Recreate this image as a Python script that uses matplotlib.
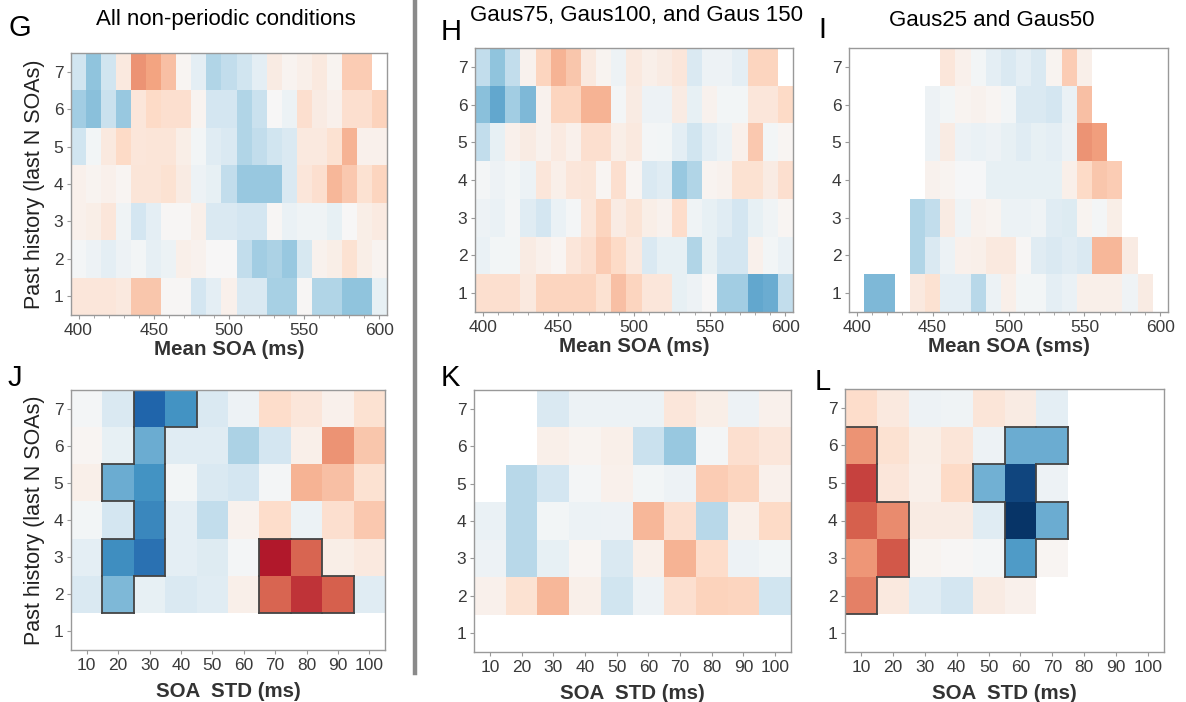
import numpy as np
import matplotlib
matplotlib.use("Agg")
import matplotlib.pyplot as plt
from matplotlib.lines import Line2D

plt.rcParams['font.family'] = ['Liberation Sans', 'DejaVu Sans']

nan = np.nan

# x bins
mean_soa = list(range(400, 601, 10))      # 21 bins, top row
soa_std = list(range(10, 101, 10))        # 10 bins, bottom row
history = [1, 2, 3, 4, 5, 6, 7]

# rows listed from history 7 (top) down to history 1 (bottom)
g_vals = [
    [-0.2, -0.4, -0.2, 0.1, 0.45, 0.4, 0.3, 0.02, -0.1, -0.3, -0.25, -0.2, -0.1, 0.08, 0.03, 0.06, 0.1, 0.03, 0.25, 0.25, nan],
    [-0.35, -0.42, -0.22, -0.38, 0.12, 0.2, 0.17, 0.17, 0.03, -0.18, -0.18, -0.3, -0.22, 0.0, -0.06, 0.17, 0.08, 0.05, 0.17, 0.17, 0.23],
    [-0.2, -0.03, 0.1, 0.2, 0.12, 0.13, 0.13, 0.07, -0.03, -0.12, -0.15, -0.3, -0.25, -0.2, -0.15, 0.1, 0.1, 0.15, 0.35, 0.05, 0.05],
    [0.05, 0.03, 0.05, 0.02, 0.13, 0.13, 0.15, 0.08, -0.05, -0.08, -0.25, -0.38, -0.38, -0.38, -0.15, 0.12, 0.17, 0.33, 0.27, 0.15, 0.22],
    [0.05, 0.07, 0.12, -0.04, -0.18, -0.1, 0.01, 0.01, 0.06, -0.15, -0.15, -0.18, -0.18, 0.01, -0.07, -0.04, -0.04, -0.08, 0.0, 0.07, 0.09],
    [-0.02, -0.05, -0.1, -0.05, -0.03, -0.09, -0.06, 0.06, 0.04, 0.0, 0.0, -0.25, -0.35, -0.32, -0.38, -0.17, 0.04, 0.07, 0.15, 0.07, 0.03],
    [0.12, 0.12, 0.12, 0.1, 0.28, 0.28, 0.01, 0.01, -0.18, -0.1, 0.05, -0.15, -0.15, -0.33, -0.33, 0.01, -0.3, -0.3, -0.4, -0.4, -0.08],
]

h_vals = [
    [-0.25, -0.4, -0.25, 0.04, 0.22, 0.35, 0.28, 0.1, 0.03, -0.05, 0.1, 0.06, 0.08, 0.12, -0.15, -0.05, -0.05, -0.1, 0.22, 0.22, nan],
    [-0.42, -0.52, -0.35, -0.45, 0.04, 0.22, 0.22, 0.35, 0.35, -0.02, 0.08, -0.05, -0.05, 0.08, -0.08, 0.04, -0.03, -0.03, 0.12, 0.12, 0.2],
    [-0.25, -0.08, 0.05, 0.08, 0.04, 0.09, 0.05, 0.17, 0.17, 0.07, 0.1, -0.02, -0.03, -0.1, -0.2, -0.1, -0.06, 0.05, 0.27, -0.03, 0.02],
    [-0.02, -0.05, -0.03, -0.06, 0.12, 0.06, 0.12, 0.13, 0.02, 0.17, 0.02, -0.15, -0.12, -0.38, -0.3, 0.03, 0.04, 0.15, 0.15, 0.08, 0.17],
    [-0.05, -0.07, -0.02, -0.12, -0.18, -0.07, -0.02, 0.12, 0.22, 0.08, 0.14, 0.07, 0.04, 0.18, -0.04, -0.08, -0.12, -0.18, -0.08, -0.04, 0.02],
    [-0.07, -0.03, -0.03, 0.08, 0.05, 0.02, 0.12, 0.17, 0.25, 0.2, 0.1, -0.15, -0.08, -0.08, -0.3, -0.08, -0.18, -0.18, 0.05, -0.03, -0.07],
    [0.17, 0.17, 0.17, 0.1, 0.22, 0.22, 0.22, 0.22, 0.15, 0.3, 0.22, 0.12, 0.12, -0.08, -0.05, 0.0, -0.35, -0.35, -0.52, -0.5, -0.25],
]

i_vals = [
    [nan] * 6 + [0.12, 0.05, -0.03, -0.1, -0.15, -0.1, -0.15, 0.03, 0.25, 0.06] + [nan] * 5,
    [nan] * 5 + [-0.05, -0.03, 0.03, 0.04, 0.02, -0.03, -0.15, -0.15, -0.18, -0.07, 0.3] + [nan] * 5,
    [nan] * 5 + [-0.05, 0.08, -0.05, -0.07, -0.05, -0.08, -0.12, -0.08, -0.1, -0.05, 0.45, 0.42] + [nan] * 4,
    [nan] * 5 + [0.04, 0.03, -0.01, -0.01, -0.08, -0.08, -0.08, -0.08, -0.08, 0.06, 0.2, 0.28, 0.25] + [nan] * 3,
    [nan] * 4 + [-0.3, -0.25, 0.08, -0.04, 0.04, 0.03, -0.06, -0.06, -0.04, -0.12, -0.14, 0.03, -0.02, 0.07] + [nan] * 3,
    [nan] * 4 + [-0.3, -0.15, -0.06, 0.05, 0.06, 0.1, 0.1, 0.01, -0.12, -0.15, -0.12, -0.15, 0.33, 0.33, 0.08] + [nan] * 2,
    [nan, -0.45, -0.45, nan, 0.1, 0.15, -0.1, -0.1, -0.28, -0.06, 0.06, -0.03, -0.03, -0.1, -0.07, 0.06, 0.06, 0.06, -0.04, 0.08, nan],
]

j_vals = [
    [-0.02, -0.15, -0.8, -0.6, -0.15, -0.05, 0.18, 0.12, 0.05, 0.15],
    [0.02, -0.08, -0.5, -0.12, -0.12, -0.32, -0.18, 0.06, 0.45, 0.28],
    [0.06, -0.5, -0.6, -0.03, -0.15, -0.18, -0.02, 0.35, 0.3, 0.15],
    [-0.03, -0.18, -0.65, -0.1, -0.25, 0.04, 0.18, -0.06, 0.17, 0.27],
    [-0.1, -0.62, -0.75, -0.1, -0.13, -0.02, 0.8, 0.58, 0.07, 0.1],
    [-0.15, -0.45, -0.08, -0.15, -0.12, 0.06, 0.58, 0.72, 0.6, -0.12],
    [nan] * 10,
]

k_vals = [
    [nan, nan, -0.15, -0.06, -0.06, -0.06, 0.12, 0.07, -0.05, 0.05],
    [nan, nan, 0.06, 0.03, 0.06, -0.22, -0.38, -0.02, 0.17, 0.12],
    [nan, -0.28, -0.18, -0.02, 0.05, -0.03, -0.05, 0.25, 0.22, 0.05],
    [-0.07, -0.28, -0.03, -0.06, -0.05, 0.33, 0.17, -0.28, 0.06, 0.2],
    [-0.05, -0.28, -0.08, 0.02, -0.15, 0.06, 0.35, 0.18, -0.05, -0.03],
    [0.05, 0.15, 0.33, 0.06, -0.2, -0.05, 0.17, 0.23, 0.22, -0.2],
    [nan] * 10,
]

l_vals = [
    [0.18, 0.1, -0.05, -0.04, 0.13, 0.08, -0.1, nan, nan, nan],
    [0.45, 0.15, 0.07, 0.13, -0.05, -0.5, -0.5, nan, nan, nan],
    [0.68, 0.12, 0.06, 0.2, -0.48, -0.92, -0.05, nan, nan, nan],
    [0.6, 0.47, 0.08, 0.08, -0.12, -0.98, -0.5, nan, nan, nan],
    [0.44, 0.62, 0.03, 0.01, -0.02, -0.57, 0.02, nan, nan, nan],
    [0.5, 0.1, -0.12, -0.18, 0.08, 0.05, nan, nan, nan, nan],
    [nan] * 10,
]

# significant clusters (x bin, history)
j_clusters = [
    [(30, 7), (40, 7), (30, 6), (20, 5), (30, 5), (30, 4), (20, 3), (30, 3), (20, 2)],
    [(70, 3), (80, 3), (70, 2), (80, 2), (90, 2)],
]
l_clusters = [
    [(10, 6), (10, 5), (10, 4), (20, 4), (10, 3), (20, 3), (10, 2)],
    [(60, 6), (70, 6), (50, 5), (60, 5), (60, 4), (70, 4), (60, 3)],
]

W, H = 1186, 702


def add_ax(fig, left, right, top, bottom):
    return fig.add_axes([left / W, 1 - bottom / H, (right - left) / W, (bottom - top) / H])


def edges(centers):
    c = np.asarray(centers, dtype=float)
    step = c[1] - c[0]
    return np.append(c - step / 2, c[-1] + step / 2)


def heat(ax, xs, vals):
    z = np.ma.masked_invalid(np.array(vals, dtype=float)[::-1])
    ax.pcolormesh(edges(xs), edges(history), z, cmap='RdBu_r', vmin=-1, vmax=1)
    ax.set_xlim(edges(xs)[0], edges(xs)[-1])
    ax.set_ylim(0.5, 7.5)
    ax.set_yticks(history)
    for s in ax.spines.values():
        s.set_color('#999999')
        s.set_linewidth(1.0)
    ax.tick_params(colors='#999999', labelcolor='#3a3a3a', labelsize=12.5, length=3, width=0.8, pad=2.5)


def outline(ax, xs, cluster):
    step = xs[1] - xs[0]
    cells = set(cluster)
    for (x, y) in cells:
        x0, x1 = x - step / 2, x + step / 2
        y0, y1 = y - 0.5, y + 0.5
        if (x, y + 1) not in cells:
            ax.plot([x0, x1], [y1, y1], color='#444444', lw=1.3, solid_capstyle='projecting')
        if (x, y - 1) not in cells:
            ax.plot([x0, x1], [y0, y0], color='#444444', lw=1.3, solid_capstyle='projecting')
        if (x - step, y) not in cells:
            ax.plot([x0, x0], [y0, y1], color='#444444', lw=1.3, solid_capstyle='projecting')
        if (x + step, y) not in cells:
            ax.plot([x1, x1], [y0, y1], color='#444444', lw=1.3, solid_capstyle='projecting')


fig = plt.figure(figsize=(W / 100, H / 100), dpi=100)

axG = add_ax(fig, 71, 387, 53, 315)
axH = add_ax(fig, 475, 793, 48, 312)
axI = add_ax(fig, 849, 1168, 48, 312)
axJ = add_ax(fig, 71, 385, 390, 650)
axK = add_ax(fig, 474, 791, 390, 652)
axL = add_ax(fig, 845, 1164, 389, 652)

for ax, vals in [(axG, g_vals), (axH, h_vals), (axI, i_vals)]:
    heat(ax, mean_soa, vals)
    ax.set_xticks(range(400, 601, 50))
    ax.set_xticks(mean_soa, minor=True)
    ax.tick_params(which='minor', colors='#999999', length=2, width=0.6)

for ax, vals in [(axJ, j_vals), (axK, k_vals), (axL, l_vals)]:
    heat(ax, soa_std, vals)
    ax.set_xticks(soa_std)

for c in j_clusters:
    outline(axJ, soa_std, c)
for c in l_clusters:
    outline(axL, soa_std, c)

lab = dict(fontsize=14.8, fontweight='bold', color='#333333')
axG.set_xlabel('Mean SOA (ms)', labelpad=2, **lab)
axH.set_xlabel('Mean SOA (ms)', labelpad=2, **lab)
axI.set_xlabel('Mean SOA (sms)', labelpad=2, **lab)
for ax in (axJ, axK, axL):
    ax.set_xlabel('SOA  STD (ms)', labelpad=7, **lab)

axG.set_ylabel('Past history (last N SOAs)', fontsize=15.5, color='#222222', labelpad=6)
axJ.set_ylabel('Past history (last N SOAs)', fontsize=15.5, color='#222222', labelpad=6)

fig.text(226 / W, 1 - 20 / H, 'All non-periodic conditions', fontsize=16, ha='center', va='center')
fig.text(636 / W, 1 - 15 / H, 'Gaus75, Gaus100, and Gaus 150', fontsize=16, ha='center', va='center')
fig.text(992 / W, 1 - 20 / H, 'Gaus25 and Gaus50', fontsize=16, ha='center', va='center')

for letter, x, y in [('G', 20, 28), ('H', 451, 32), ('I', 822, 30),
                     ('J', 15, 378), ('K', 450, 378), ('L', 823, 382)]:
    fig.text(x / W, 1 - y / H, letter, fontsize=21, ha='center', va='center')

fig.add_artist(Line2D([415 / W, 415 / W], [1 - 673 / H, 1.0], color='#8a8a8a', lw=3.2))

fig.savefig('out.png', dpi=100)
